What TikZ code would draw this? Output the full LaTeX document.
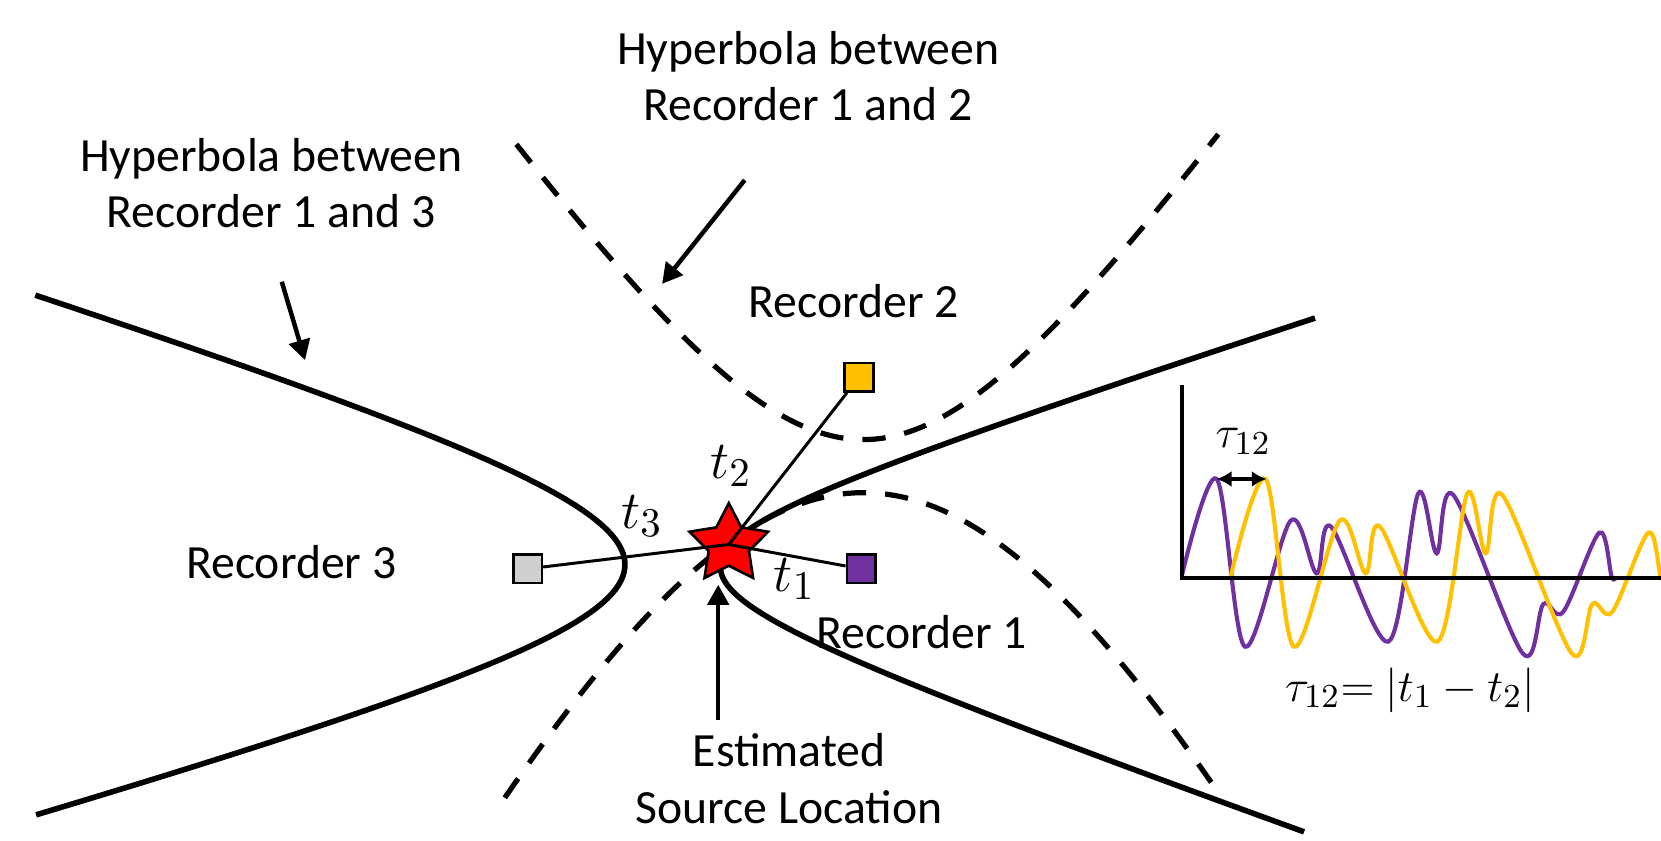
\documentclass[tikz,border=0pt]{standalone}
\usepackage{fontspec}
\setmainfont{Carlito}
\usepackage{amsmath}
\usetikzlibrary{arrows.meta,shapes.geometric}
\definecolor{recyellow}{HTML}{FFC000}
\definecolor{recpurple}{HTML}{7030A0}
\definecolor{recgray}{HTML}{D0CECE}
\tikzset{%
    hyp/.style={line width=1.5pt},
    hypdash/.style={line width=1.4pt, dash pattern=on 0.22cm off 0.18cm},
    ray/.style={line width=0.8pt},
    pointer/.style={line width=1.2pt, -{Triangle[length=0.19cm,width=0.2cm]}},
    recbox/.style={draw, line width=0.7pt, minimum size=0.27cm, inner sep=0pt},
    lbl/.style={font=\fontsize{12.8}{15.1}\selectfont, align=center},
    mlbl/.style={font=\fontsize{15}{17}\selectfont},
    slbl/.style={font=\fontsize{13}{15}\selectfont},
    wave/.style={line width=1.1pt}
}

\begin{document}
\begin{tikzpicture}[x=0.01cm, y=-0.01cm]
    \useasboundingbox (0,0) rectangle (1568,793);
    \clip (0,0) rectangle (1568,793);

    % hyperbola between recorder 1 and 3
    \draw[hyp] plot[domain=-1.585:1.585, samples=80, variable=\u]
        ({951-361*cosh(\u)}, {533+105*sinh(\u)-5.8*(cosh(\u)-1)});
    \draw[hyp] plot[domain=-2.02:2.007, samples=100, variable=\u]
        ({482+198*cosh(\u)}, {535+66*sinh(\u)+3.4*(cosh(\u)-1)});

    % hyperbola between recorder 1 and 2
    \draw[hypdash] plot[domain=-1.36:1.38, samples=80, variable=\u]
        ({815+180*sinh(\u)}, {674-259*cosh(\u)});
    \draw[hypdash] plot[domain=-0.87:0.85, samples=80, variable=\u]
        ({815+344*sinh(\u)}, {-250+715*cosh(\u)});

    % source and recorders
    \node[star, star points=5, star point ratio=1.95, minimum size=0.78cm,
          inner sep=0pt, fill=red, draw, line width=0.7pt] (src) at (688,514) {};
    \node[recbox, fill=recpurple] (rec1) at (813,537) {};
    \node[recbox, fill=recyellow] (rec2) at (811,356) {};
    \node[recbox, fill=recgray] (rec3) at (498,537) {};
    \draw[ray] (src.center) -- (rec1);
    \draw[ray] (src.center) -- (rec2);
    \draw[ray] (src.center) -- (rec3);

    \node[mlbl] (lt1) at (750,547) {$t_1$};
    \node[mlbl] (lt2) at (690,440) {$t_2$};
    \node[mlbl] (lt3) at (606,487) {$t_3$};

    \node[lbl] (l1) at (870,597) {Recorder 1};
    \node[lbl] (l2) at (806,284) {Recorder 2};
    \node[lbl] (l3) at (275,531) {Recorder 3};

    % labels with pointers
    \node[lbl] (h12) at (763,72) {Hyperbola between\\Recorder 1 and 2};
    \node[lbl] (h13) at (256,173) {Hyperbola between\\Recorder 1 and 3};
    \node[lbl] (lsrc) at (745,735) {Estimated\\Source Location};
    \coordinate (p12a) at (703,170);
    \coordinate (p12b) at (625,268);
    \coordinate (p13a) at (266,266);
    \coordinate (p13b) at (288,340);
    \coordinate (psa) at (678,680);
    \coordinate (psb) at (678,552);
    \draw[pointer] (p12a) -- (p12b);
    \draw[pointer] (p13a) -- (p13b);
    \draw[pointer] (psa) -- (psb);

    % recorded signals
    \begin{scope}[shift={(1085.6,358.7)}, scale=0.3147]
        \foreach \s/\c in {0/recpurple, 147/recyellow}
            \draw[wave, \c] plot[smooth, tension=0.55] coordinates {
                ({95+\s},590) ({200+\s},297) ({285+\s},800) ({422+\s},422)
                ({500+\s},580) ({543+\s},440) ({715+\s},785) ({805+\s},340)
                ({860+\s},520) ({910+\s},345) ({1118+\s},820) ({1180+\s},672)
                ({1240+\s},695) ({1348+\s},458) ({1385+\s},590) ({1398+\s},590)};
        \draw[line width=1pt] (95,15) -- (95,595) -- (1540,595);
        \coordinate (pk1) at (200,297);
        \coordinate (pk2) at (350,297);
        \draw[line width=1pt, {Latex[length=0.14cm,width=0.15cm]}-{Latex[length=0.14cm,width=0.15cm]}] (pk1) -- (pk2);
        \node[slbl] (tau) at (280,185) {$\tau_{12}$};
        \node[slbl] (taueq) at (780,930) {$\tau_{12}{=}\ |t_1-t_2|$};
    \end{scope}
\end{tikzpicture}
\end{document}
